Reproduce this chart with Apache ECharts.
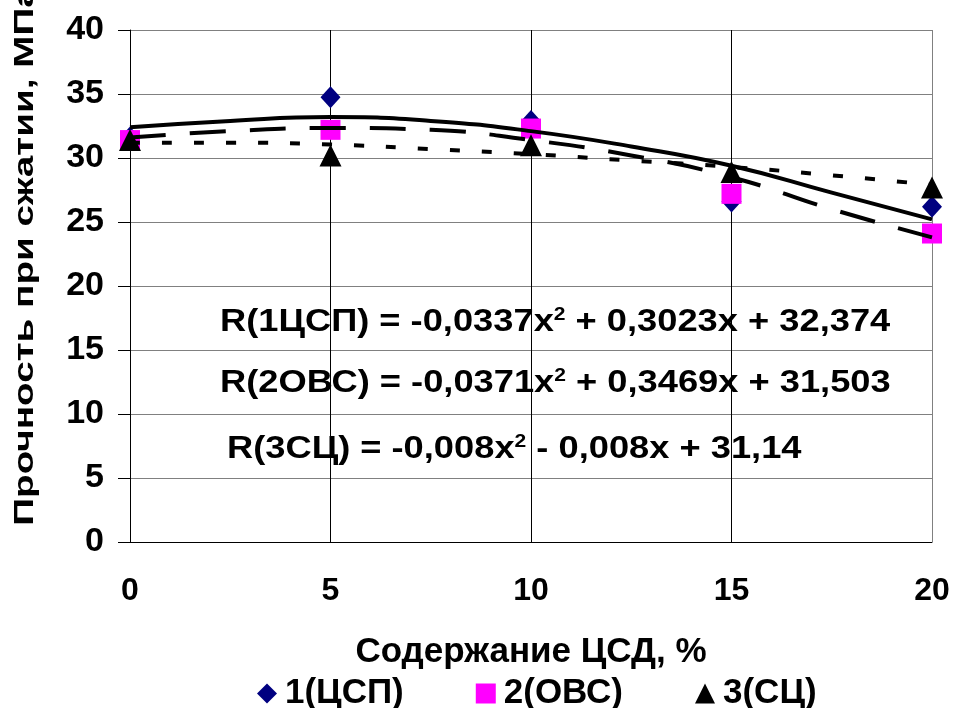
<!DOCTYPE html>
<html lang="ru">
<head>
    <meta charset="UTF-8">
    <title>Прочность при сжатии</title>
</head>
<body style="margin:0;background:#fff">
<div id="main" style="width:953px;height:708px"></div>
<script src="https://cdn.jsdelivr.net/npm/echarts@6/dist/echarts.min.js"></script>
<script>
    // содержание ЦСД, %
    var xValues = [0, 5, 10, 15, 20];
    var names = ['1(ЦСП)', '2(ОВС)', '3(СЦ)'];
    // измеренные значения, МПа
    var s1 = [31.6, 34.75, 32.9, 26.6, 26.2];
    var s2 = [31.4, 32.2, 32.3, 27.2, 24.1];
    var s3 = [31.4, 30.2, 31.0, 28.9, 27.7];
    // линии тренда
    var trendX = [0, 2.5, 5, 7.5, 10, 12.5, 15, 17.5, 20];
    var t1 = [32.4, 32.9, 33.2, 32.9, 32.1, 30.9, 29.4, 27.3, 25.2];
    var t2 = [31.6, 32.1, 32.35, 32.2, 31.4, 30.2, 28.5, 26.0, 23.8];
    var t3 = [31.2, 31.2, 31.05, 30.7, 30.3, 29.8, 29.3, 28.65, 27.9];
    // подписи уравнений: до x^2 и после
    var equations = [
        ['R(1ЦСП) = -0,0337x', ' + 0,3023x + 32,374'],
        ['R(2ОВС) = -0,0371x', ' + 0,3469x + 31,503'],
        ['R(3СЦ) = -0,008x', ' - 0,008x + 31,14']
    ];

    var font = "'Liberation Sans', Arial, sans-serif";

    function pairs(xs, ys) {
        return xs.map(function (x, i) { return [x, ys[i]]; });
    }

    var chart = echarts.init(document.getElementById('main'));

    var eqPos = [[220, 322], [220, 383], [227, 449]];
    var eqGraphics = equations.map(function (eq, i) {
        return {
            type: 'text',
            x: eqPos[i][0],
            y: eqPos[i][1],
            scaleX: 1.17,
            z: 10,
            style: {
                text: '{a|' + eq[0] + '}{s|2}{a|' + eq[1] + '}',
                textVerticalAlign: 'middle',
                rich: {
                    a: {fontFamily: font, fontWeight: 'bold', fontSize: 31, color: '#000'},
                    s: {fontFamily: font, fontWeight: 'bold', fontSize: 18, color: '#000', verticalAlign: 'top'}
                }
            }
        };
    });

    var option = {
        backgroundColor: '#fff',
        animation: false,
        grid: {left: 130, right: 21, top: 30, bottom: 166},
        xAxis: {
            type: 'value',
            min: 0, max: 20, interval: 5,
            name: 'Содержание ЦСД, %',
            nameLocation: 'middle',
            nameGap: 93,
            nameTextStyle: {fontFamily: font, fontWeight: 'bold', fontSize: 35, color: '#000'},
            axisLine: {lineStyle: {color: '#000', width: 1}},
            axisTick: {show: false},
            axisLabel: {margin: 33, fontFamily: font, fontWeight: 'bold', fontSize: 32, color: '#000'},
            splitLine: {show: true, lineStyle: {color: ['#000', '#000', '#000', '#000', '#808080'], width: 1}}
        },
        yAxis: {
            type: 'value',
            min: 0, max: 40, interval: 5,
            axisLine: {show: true, lineStyle: {color: '#000', width: 1}},
            axisTick: {show: true, length: 12, lineStyle: {color: '#000'}},
            axisLabel: {margin: 26, fontFamily: font, fontWeight: 'bold', fontSize: 34, color: '#000'},
            splitLine: {show: true, lineStyle: {color: '#808080', width: 1}}
        },
        legend: {
            left: 252,
            top: 671,
            itemWidth: 20,
            itemHeight: 20,
            itemGap: 72,
            data: [
                {name: names[0], icon: 'diamond'},
                {name: names[1], icon: 'rect'},
                {name: names[2], icon: 'triangle'}
            ],
            textStyle: {fontFamily: font, fontWeight: 'bold', fontSize: 35, color: '#000', padding: [0, 0, 0, 3]}
        },
        graphic: [
            {
                type: 'text',
                x: 25,
                y: 256,
                rotation: Math.PI / 2,
                scaleX: 1.38,
                style: {
                    text: 'Прочность при сжатии, МПа',
                    fontFamily: font, fontWeight: 'bold', fontSize: 28, fill: '#000',
                    textAlign: 'center', textVerticalAlign: 'middle'
                }
            }
        ].concat(eqGraphics),
        series: [
            {
                name: names[0], type: 'scatter', symbol: 'diamond', symbolSize: [20, 22],
                itemStyle: {color: '#000080', opacity: 1}, data: pairs(xValues, s1), z: 2
            },
            {
                name: names[1], type: 'scatter', symbol: 'rect', symbolSize: 20,
                itemStyle: {color: '#ff00ff', opacity: 1}, data: pairs(xValues, s2), z: 3
            },
            {
                name: names[2], type: 'scatter', symbol: 'triangle', symbolSize: 22,
                itemStyle: {color: '#000', opacity: 1}, data: pairs(xValues, s3), z: 4
            },
            {
                name: 'тренд 1', type: 'line', smooth: true, showSymbol: false, symbol: 'none',
                lineStyle: {color: '#000', width: 4, type: 'solid'}, data: pairs(trendX, t1), z: 5
            },
            {
                name: 'тренд 2', type: 'line', smooth: true, showSymbol: false, symbol: 'none',
                lineStyle: {color: '#000', width: 4, type: [36, 24]}, data: pairs(trendX, t2), z: 5
            },
            {
                name: 'тренд 3', type: 'line', smooth: true, showSymbol: false, symbol: 'none',
                lineStyle: {color: '#000', width: 4, type: [10, 22]}, data: pairs(trendX, t3), z: 5
            }
        ]
    };

    chart.setOption(option);
</script>
</body>
</html>
